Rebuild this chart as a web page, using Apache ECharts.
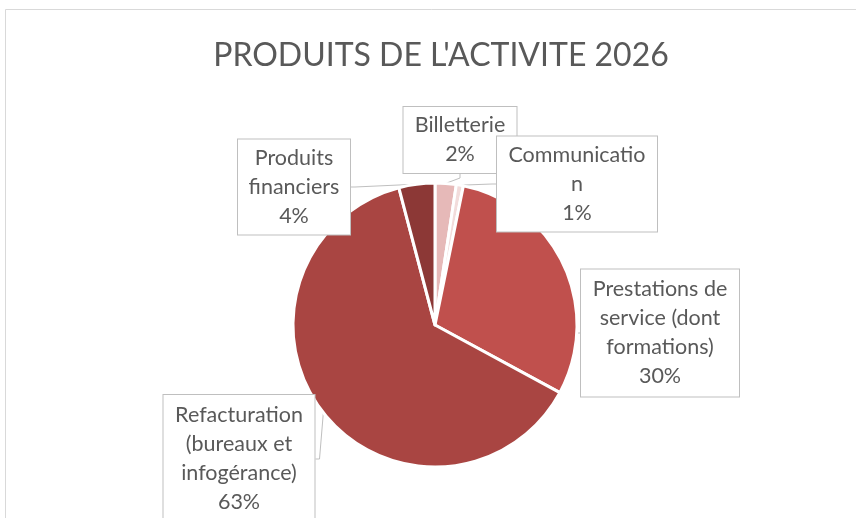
<!DOCTYPE html>
<html>
<head>
<meta charset="utf-8">
<script src="https://cdn.jsdelivr.net/npm/echarts@6/dist/echarts.min.js"></script>
<style>
  html, body { margin: 0; padding: 0; background: #fff; }
  #chart { width: 856px; height: 518px; }
</style>
</head>
<body>
<div id="chart"></div>
<script>
  // slices, clockwise from 12 o'clock
  const categories = ['Billetterie', 'Communication', 'Prestations de service (dont formations)',
                      'Refacturation (bureaux et infogérance)', 'Produits financiers'];
  const values = [2.4, 0.8, 29.7, 63.0, 4.1];
  // wrapped the way the callouts show them
  const labelTexts = ['Billetterie', 'Communicatio\nn', 'Prestations de\nservice (dont\nformations)',
                      'Refacturation\n(bureaux et\ninfogérance)', 'Produits\nfinanciers'];
  const colors = ['#E6B9B8', '#F2DCDB', '#C0504D', '#A94542', '#8C3836'];

  // callout boxes: centre x, centre y, width, height
  const boxes = [
    [460, 140, 113, 66],
    [577, 184, 160, 95],
    [660, 333, 158, 127],
    [239, 459, 151, 128],
    [294, 187, 112, 95]
  ];

  const TEXT = '#595959';
  const FONT = 'Lato, "Open Sans", sans-serif';

  const chart = echarts.init(document.getElementById('chart'));

  chart.setOption({
    animation: false,
    backgroundColor: '#fff',
    title: {
      text: "PRODUITS DE L'ACTIVITE 2026",
      left: 436, top: 35, textAlign: 'center',
      textStyle: { fontFamily: FONT, fontWeight: 'normal', fontSize: 32, color: TEXT }
    },
    graphic: [{
      type: 'rect', silent: true,
      shape: { x: 5.5, y: 9.5, width: 900, height: 600 },
      style: { fill: 'none', stroke: '#D9D9D9', lineWidth: 1 }
    }],
    series: [{
      type: 'pie',
      center: [435, 325],
      radius: 142,
      startAngle: 90,
      clockwise: true,
      percentPrecision: 0,
      itemStyle: { borderColor: '#fff', borderWidth: 3 },
      label: {
        show: true,
        position: 'outside',
        formatter: p => labelTexts[p.dataIndex] + '\n' + p.percent + '%',
        fontFamily: FONT,
        fontSize: 21.5,
        lineHeight: 29,
        color: TEXT,
        align: 'center',
        overflow: 'none',
        backgroundColor: '#fff',
        borderColor: '#BFBFBF',
        borderWidth: 1
      },
      labelLine: {
        show: true,
        length: 4, length2: 4,
        lineStyle: { color: '#BFBFBF', width: 1 }
      },
      labelLayout: p => {
        const b = boxes[p.dataIndex];
        return { x: b[0], y: b[1], align: 'center', verticalAlign: 'middle', width: b[2], height: b[3] };
      },
      emphasis: { disabled: true },
      data: categories.map((c, i) => ({
        name: c,
        value: values[i],
        itemStyle: { color: colors[i] },
        label: {
          width: boxes[i][2] - 2,
          height: boxes[i][3] - 2,
          padding: 0
        }
      }))
    }]
  });
</script>
</body>
</html>
